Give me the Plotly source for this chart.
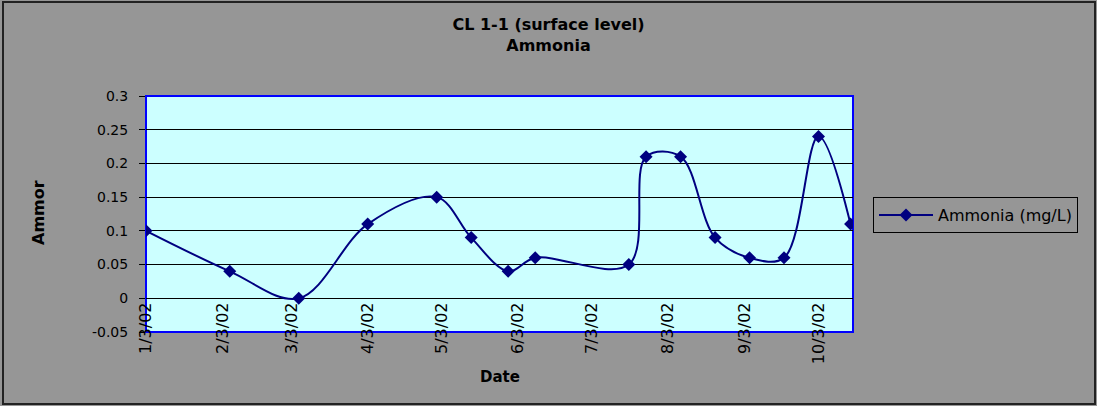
import plotly.graph_objects as go

# ---- data ----
dates = ["2002-01-03", "2002-02-06", "2002-03-06", "2002-04-03", "2002-05-01",
         "2002-05-15", "2002-05-30", "2002-06-10", "2002-07-18", "2002-07-25",
         "2002-08-08", "2002-08-22", "2002-09-05", "2002-09-19", "2002-10-03",
         "2002-10-16"]
ammonia = [0.10, 0.04, 0.00, 0.11, 0.15, 0.09, 0.04, 0.06, 0.05, 0.21,
           0.21, 0.09, 0.06, 0.06, 0.24, 0.11]

x_tick_dates = ["2002-01-03", "2002-02-03", "2002-03-03", "2002-04-03", "2002-05-03",
                "2002-06-03", "2002-07-03", "2002-08-03", "2002-09-03", "2002-10-03"]
x_tick_labels = ["1/3/02", "2/3/02", "3/3/02", "4/3/02", "5/3/02",
                 "6/3/02", "7/3/02", "8/3/02", "9/3/02", "10/3/02"]
y_tick_vals = [-0.05, 0, 0.05, 0.1, 0.15, 0.2, 0.25, 0.3]
y_tick_labels = ["-0.05", "0", "0.05", "0.1", "0.15", "0.2", "0.25", "0.3"]

FONT = "DejaVu Sans, Liberation Sans, Arial, sans-serif"
NAVY = "#000080"
GRAY = "#969696"

W, H = 1097, 406
L, R, T, B = 146, 244, 96, 74
pw, ph = W - L - R, H - T - B

y_min, y_max = -0.05, 0.3

fig = go.Figure()
fig.add_trace(go.Scatter(
    x=dates, y=ammonia, mode="lines+markers", name="Ammonia (mg/L)",
    line=dict(color=NAVY, width=2, shape="spline", smoothing=1.0),
    marker=dict(symbol="diamond", size=10, color=NAVY),
))

def px_x(p):
    return (p - L) / pw

def px_y(p):
    return (H - B - p) / ph

fig.update_layout(
    width=W, height=H,
    margin=dict(l=L, r=R, t=T, b=B, autoexpand=False),
    paper_bgcolor=GRAY, plot_bgcolor="#CCFFFF",
    font=dict(family=FONT, size=14, color="black"),
    title=dict(text="CL 1-1 (surface level)<br>Ammonia", x=0.5, xref="container",
               xanchor="center", y=(H - 30) / H, yref="container", yanchor="top",
               font=dict(family=FONT, size=16, color="black", weight="bold")),
    showlegend=True,
    legend=dict(x=px_x(873), y=px_y(197), xanchor="left", yanchor="top",
                bgcolor=GRAY, bordercolor="black", borderwidth=1,
                itemwidth=54,
                font=dict(family=FONT, size=16, color="black")),
    xaxis=dict(type="date", range=["2002-01-03", "2002-10-17"],
               tickvals=x_tick_dates, ticktext=x_tick_labels, tickangle=-90,
               anchor="free", position=(0 - y_min) / (y_max - y_min),
               showgrid=False, showline=False, zeroline=False, ticks="",
               tickfont=dict(family=FONT, size=16, color="black"),
               automargin=False),
    yaxis=dict(range=[y_min, y_max], tickvals=y_tick_vals, ticktext=y_tick_labels,
               showgrid=True, gridcolor="black", gridwidth=1,
               zeroline=True, zerolinecolor="black", zerolinewidth=1,
               showline=False, ticks="outside", ticklen=6, tickcolor="black",
               ticklabelstandoff=8,
               tickfont=dict(family=FONT, size=14, color="black"),
               automargin=False),
    annotations=[
        dict(text="<b>Date</b>", x=0.5, y=px_y(377), xref="paper", yref="paper",
             showarrow=False, xanchor="center", yanchor="middle",
             font=dict(family=FONT, size=15, color="black")),
        dict(text="<b>Ammor</b>", x=px_x(38), y=px_y(213), xref="paper", yref="paper",
             showarrow=False, xanchor="center", yanchor="middle", textangle=-90,
             font=dict(family=FONT, size=16, color="black")),
    ],
    shapes=[
        dict(type="rect", xref="paper", yref="paper", x0=0, x1=1, y0=0, y1=1,
             line=dict(color="#0000FF", width=2), layer="below"),
        dict(type="rect", xref="paper", yref="paper",
             x0=px_x(3), x1=px_x(1095), y0=px_y(404), y1=px_y(2),
             line=dict(color="#222222", width=2), layer="above"),
    ],
)

fig.write_html("out.html", config={"displayModeBar": False},
               post_script="document.body.style.margin='0';document.body.style.padding='0';")
